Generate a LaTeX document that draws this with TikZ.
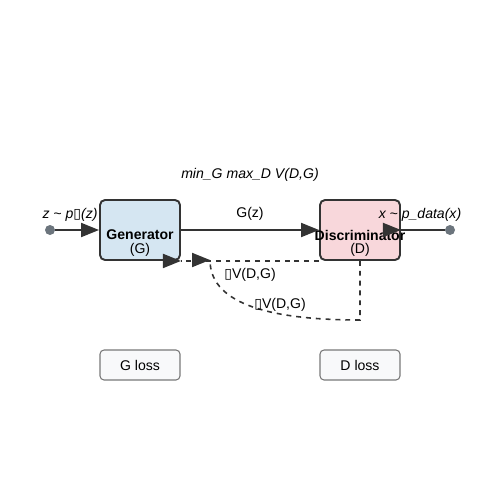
\documentclass[tikz,border=0pt]{standalone}
\usepackage{fontspec}
\setmainfont{Liberation Sans}
\newfontfamily\boxglyph{DejaVu Sans}
\usepackage{tikz}
\usepackage{xcolor}
\usetikzlibrary{positioning, arrows.meta}
\definecolor{ganblue}{RGB}{213, 230, 242}
\definecolor{ganpink}{RGB}{248, 215, 219}
\definecolor{ganedge}{RGB}{51, 51, 51}
\definecolor{gandot}{RGB}{108, 117, 125}
\definecolor{ganlight}{RGB}{248, 249, 250}
\definecolor{gangray}{RGB}{120, 120, 120}
\newcommand{\missing}{{\upshape\boxglyph\char"25AF}}
\tikzset{
    block/.style={draw=ganedge, line width=1.1pt, rounded corners=0.1cm, minimum width=1.6cm, minimum height=1.2cm, inner sep=0pt},
    genblock/.style={block, fill=ganblue},
    disblock/.style={block, fill=ganpink},
    lossbox/.style={draw=gangray, fill=ganlight, line width=0.6pt, rounded corners=0.08cm, minimum width=1.6cm, minimum height=0.6cm, font=\fontsize{8}{9.6}\selectfont},
    sample/.style={circle, fill=gandot, minimum size=0.2cm, inner sep=0pt},
    txt/.style={inner sep=1pt, font=\fontsize{8}{9.6}\selectfont},
    flow/.style={draw=ganedge, line width=1.1pt, -{Triangle[length=3.6mm, width=2.8mm]}},
    feedback/.style={draw=ganedge, line width=0.9pt, dash pattern=on 2.8pt off 2.8pt}
}
\begin{document}
\begin{tikzpicture}[x=0.02cm, y=-0.02cm]
    \useasboundingbox (0,0) rectangle (500,500);
    % blocks
    \node[genblock] (G) at (140,230) {};
    \node[disblock] (D) at (360,230) {};
    \node[txt, font=\fontsize{8}{9.6}\selectfont\bfseries] (Gname) at (140,235) {Generator};
    \node[txt] (Gsym) at (140,250) {(G)};
    \node[txt, font=\fontsize{8}{9.6}\selectfont\bfseries] (Dname) at (360,235) {Discriminator};
    \node[txt] (Dsym) at (360,250) {(D)};
    % samples
    \node[sample] (zin) at (50,230) {};
    \node[sample] (xin) at (450,230) {};
    \node[txt, font=\fontsize{8}{9.6}\selectfont\itshape] (zlab) at (70,215) {z \textasciitilde{} p\missing(z)};
    \node[txt, font=\fontsize{8}{9.6}\selectfont\itshape] (xlab) at (420,215) {x \textasciitilde{} p\_data(x)};
    \node[txt, font=\fontsize{8}{9.6}\selectfont\itshape] (objective) at (250,175) {min\_G max\_D V(D,G)};
    % forward pass
    \draw[flow] (zin) -- (G.west);
    \draw[flow] (G.east) -- node[txt, above=4pt] (Gz) {G(z)} (D.west);
    \draw[draw=ganedge, line width=1.1pt] (D.east) -- (xin);
    \draw[flow] ([xshift=-1pt]D.east) -- (D.east);
    % gradients
    \coordinate (Dturn) at (360,320);
    \coordinate (Gin) at (210,260);
    \draw[feedback] (D.south west) -- (G.south east);
    \draw[flow] ([xshift=-1pt]G.south east) -- (G.south east);
    \draw[feedback] (D.south) -- (Dturn) .. controls (260,320) and (210,300) .. (Gin);
    \draw[flow] ([xshift=-1pt]Gin) -- (Gin);
    \node[txt] (gradG) at (250,275) {\missing V(D,G)};
    \node[txt] (gradD) at (280,305) {\missing V(D,G)};
    % losses
    \node[lossbox] (Gloss) at (140,365) {G loss};
    \node[lossbox] (Dloss) at (360,365) {D loss};
\end{tikzpicture}
\end{document}
